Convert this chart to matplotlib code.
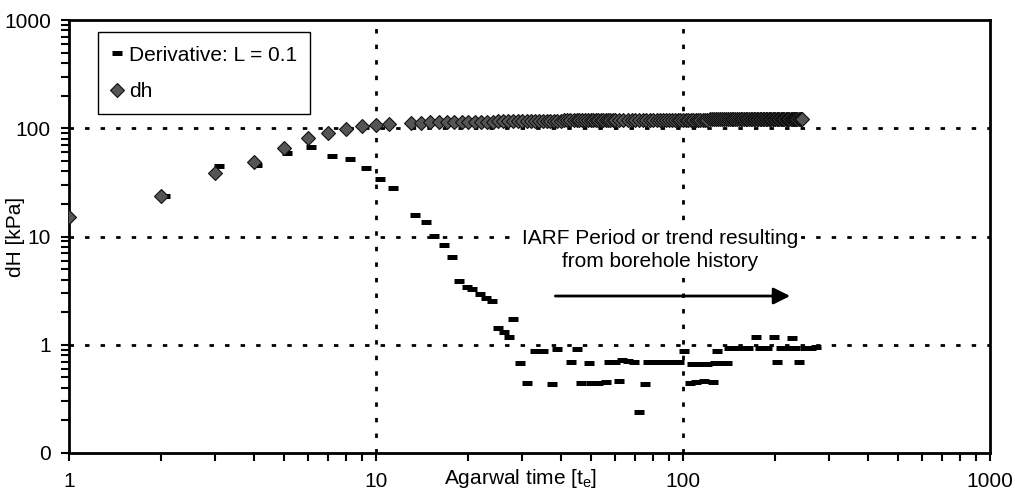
import matplotlib
matplotlib.use("Agg")
import matplotlib.pyplot as plt
from matplotlib.ticker import LogLocator, FixedFormatter, FixedLocator, NullFormatter

plt.rcParams['font.family'] = ['Liberation Sans', 'DejaVu Sans']

# dh series (Agarwal time, kPa)
dh_t = [1, 2, 3, 4, 5, 6, 7, 8, 9, 10, 11] + list(range(13, 61)) + list(range(62, 245, 2))
dh_v = [15, 23.6, 38.5, 48.6, 66, 82, 90, 98, 104, 108, 110,
        113, 113, 114, 114, 114, 114, 115, 115,
        115, 115, 115, 115, 116, 116, 116, 116, 116, 116,
        116, 117, 117, 117, 117, 117, 117, 117, 117, 117,
        118, 118, 118, 118, 118, 118, 118, 118, 118, 118,
        118, 118, 119, 119, 119, 119, 119, 119, 119, 119,
        119, 119, 119, 119, 119, 119, 120, 120, 120, 120,
        120, 120, 120, 120, 120, 120, 120, 120, 120, 120,
        120, 120, 120, 120, 120, 120, 120, 120, 120, 120,
        121, 121, 121, 121, 121, 121, 121, 121, 121, 121,
        121, 121, 121, 121, 121, 121, 121, 121, 121, 121,
        121, 121, 121, 121, 121, 121, 121, 121, 121, 121,
        121, 121, 121, 121, 121, 121, 121, 121, 122, 122,
        122, 122, 122, 122, 122, 122, 122, 122, 122, 122,
        122, 122, 122, 122, 122, 122, 122, 122, 122, 122,
        122, 122]

# derivative series, L = 0.1
der_t = [2.05, 3.08, 4.1, 5.13, 6.15, 7.2, 8.2, 9.3, 10.3, 11.4,
         13.4, 14.6, 15.5, 16.6, 17.7, 18.7, 19.8, 20.6, 21.8, 22.9,
         23.9, 24.9, 26.1, 27.2, 28.0, 29.5, 31, 33, 35, 37.3,
         39, 43.3, 45, 46.5, 49.4, 50, 53, 56, 57.5, 60,
         62, 63.5, 66, 69, 72, 75, 77, 81, 86, 91,
         97, 100.6, 105, 107, 110, 113, 117, 120, 125, 127,
         129, 134, 139, 141, 147, 155, 163, 173, 178, 188,
         198, 203, 208, 220, 227, 232, 239, 250, 262, 272]
der_v = [23.5, 45, 46, 59, 67, 55, 52, 43, 34, 28,
         15.8, 13.6, 10.1, 8.3, 6.45, 3.87, 3.41, 3.26, 2.94, 2.68,
         2.53, 1.43, 1.30, 1.18, 1.74, 0.68, 0.44, 0.88, 0.88, 0.43,
         0.91, 0.69, 0.91, 0.44, 0.68, 0.44, 0.44, 0.45, 0.69, 0.70,
         0.46, 0.72, 0.71, 0.70, 0.24, 0.43, 0.69, 0.69, 0.70, 0.70,
         0.69, 0.88, 0.44, 0.67, 0.45, 0.67, 0.46, 0.67, 0.45, 0.68,
         0.88, 0.68, 0.68, 0.93, 0.93, 0.93, 0.93, 1.18, 0.93, 0.93,
         1.18, 0.69, 0.93, 0.93, 1.15, 0.93, 0.70, 0.93, 0.94, 0.95]

x_ticks = [1, 10, 100, 1000]
x_labels = ["1", "10", "100", "1000"]
y_ticks = [0.1, 1, 10, 100, 1000]
y_labels = ["0", "1", "10", "100", "1000"]

fig = plt.figure(figsize=(10.15, 4.99), dpi=100)
ax = fig.add_axes([69 / 1015, 1 - 453 / 499, 921 / 1015, 433 / 499])

ax.set_xscale('log')
ax.set_yscale('log')
ax.set_xlim(1, 1000)
ax.set_ylim(0.1, 1000)

# grid lines (dotted, only inner majors)
for gy in [1, 10, 100]:
    ax.axhline(gy, color='black', lw=2, dashes=(1.6, 4.0), zorder=1)
for gx in [10, 100]:
    ax.axvline(gx, color='black', lw=2, dashes=(1.6, 4.0), zorder=1)

ax.plot(der_t, der_v, ls='none', marker='_', ms=7, mew=3.6, color='black',
        label='Derivative: L = 0.1', zorder=3)
ax.plot(dh_t, dh_v, ls='none', marker='D', ms=7.3, mfc='#555555', mec='#111111',
        mew=0.8, label='dh', zorder=4)

ax.xaxis.set_major_locator(FixedLocator(x_ticks))
ax.xaxis.set_major_formatter(FixedFormatter(x_labels))
ax.yaxis.set_major_locator(FixedLocator(y_ticks))
ax.yaxis.set_major_formatter(FixedFormatter(y_labels))
ax.xaxis.set_minor_locator(LogLocator(base=10, subs=range(2, 10)))
ax.yaxis.set_minor_locator(LogLocator(base=10, subs=range(2, 10)))
ax.xaxis.set_minor_formatter(NullFormatter())
ax.yaxis.set_minor_formatter(NullFormatter())

ax.tick_params(which='both', direction='out', width=1.5, labelsize=15)
ax.tick_params(axis='x', which='both', length=6, pad=8)
ax.tick_params(axis='y', which='both', length=6, pad=7)

for sp in ax.spines.values():
    sp.set_linewidth(2)

ax.set_xlabel('Agarwal time [t$\\mathregular{_e}$]', fontsize=15)
ax.xaxis.set_label_coords(0.49, -0.06)
ax.xaxis.label.set_verticalalignment('center')
ax.set_ylabel('dH [kPa]', fontsize=15)
ax.yaxis.set_label_coords(-0.058, 0.5)
ax.yaxis.label.set_verticalalignment('center')

ax.text(84, 7.5, 'IARF Period or trend resulting\nfrom borehole history',
        ha='center', va='center', fontsize=15, linespacing=1.3,
        bbox=dict(facecolor='white', edgecolor='none', pad=2), zorder=2)
ax.annotate('', xy=(228, 2.82), xytext=(37.6, 2.82),
            arrowprops=dict(arrowstyle='-|>', lw=2, color='black', mutation_scale=25),
            zorder=5)

leg = ax.legend(loc='upper left', bbox_to_anchor=(0.031, 0.972), borderaxespad=0,
                fontsize=15, numpoints=1, handlelength=0.6, handletextpad=0.25,
                labelspacing=0.83, borderpad=0.65, fancybox=False, framealpha=1,
                edgecolor='black')
leg.get_frame().set_linewidth(1)

fig.savefig('out.png', dpi=100)
